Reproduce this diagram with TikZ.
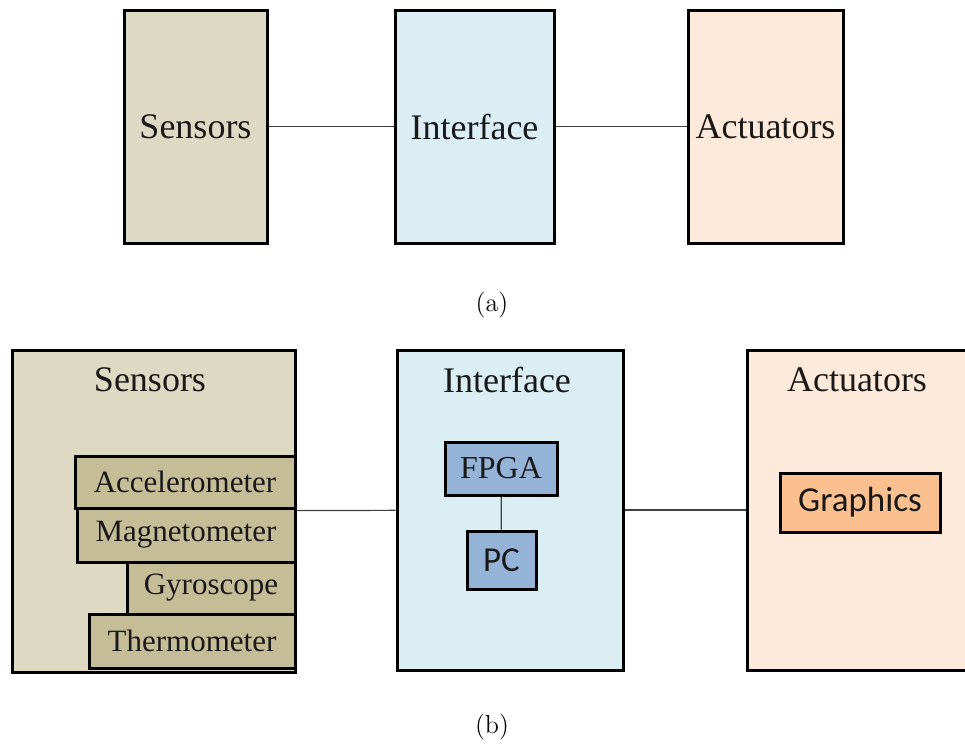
\documentclass[tikz,border=0pt]{standalone}
\usepackage{fontspec}
\newfontfamily\tms{Liberation Serif}
\newfontfamily\clb{Carlito}
\definecolor{senscol}{HTML}{DDD9C3}
\definecolor{subcol}{HTML}{C4BD97}
\definecolor{intcol}{HTML}{DAEEF3}
\definecolor{hwcol}{HTML}{95B3D7}
\definecolor{actcol}{HTML}{FDEADA}
\definecolor{gfxcol}{HTML}{FAC090}
\tikzset{every picture/.style={x=.5pt,y=-.5pt}}
\tikzset{block/.style={rectangle,draw,line width=1.5pt,inner sep=0pt,text=black!90,font=\tms\fontsize{18}{20}\selectfont}}
\tikzset{part/.style={block,font=\tms\fontsize{15.5}{18}\selectfont}}
\tikzset{hw/.style={block,fill=hwcol,font=\clb\fontsize{17.5}{20}\selectfont}}
\tikzset{heading/.style={font=\tms\fontsize{18}{20}\selectfont,text=black!90}}
\tikzset{link/.style={line width=.6pt,draw=black!75}}
\tikzset{figcap/.style={font=\fontsize{13}{15}\selectfont}}

\begin{document}
\begin{tikzpicture}
\clip (0,0) rectangle (965,746);
% (a)
\node [block,fill=senscol,minimum width=71.5pt,minimum height=116.5pt] (s) at (195.5,126.5) {Sensors};
\node [block,fill=intcol,minimum width=79.5pt,minimum height=116.5pt] (i) at (474.5,126.5) {Interface};
\node [block,fill=actcol,minimum width=77.5pt,minimum height=116.5pt] (a) at (765.5,126.5) {Actuators};
\draw [link] (s) -- (i);
\draw [link] (i) -- (a);
\node [figcap] (capa) at (492,305) {(a)};

% (b)
\node [block,fill=senscol,minimum width=141.5pt,minimum height=161pt] (sb) at (153.5,511) {};
\node [block,fill=intcol,minimum width=113pt,minimum height=160pt] (ib) at (510,510) {};
\node [block,fill=actcol,minimum width=115pt,minimum height=160pt] (ab) at (862,510) {};
\node [heading] (sbt) at (150,380) {Sensors};
\node [heading] (ibt) at (507,380) {Interface};
\node [heading] (abt) at (857,380) {Actuators};

\node [part,fill=subcol,minimum width=110pt,minimum height=26pt] (acc) at (185,482) {Accelerometer};
\node [part,fill=subcol,minimum width=109pt,minimum height=27pt] (mag) at (186,535) {Magnetometer};
\node [part,fill=subcol,minimum width=84pt,minimum height=26pt] (gyr) at (211,588) {Gyroscope};
\node [part,fill=subcol,minimum width=103pt,minimum height=27pt] (thm) at (192,641) {Thermometer};

\node [block,fill=hwcol,font=\tms\fontsize{16}{18}\selectfont,minimum width=56pt,minimum height=26.5pt] (fpga) at (501,468.5) {FPGA};
\node [hw,minimum width=34.5pt,minimum height=29pt] (pc) at (501.5,560) {PC};
\draw [link] (fpga) -- (pc);

\node [hw,fill=gfxcol,minimum width=80pt,minimum height=29.5pt] (gfx) at (860,502.5) {Graphics};

\draw [link] (sb) -- (ib);
\draw [link] (ib) -- (ab);
\node [figcap] (capb) at (492,726.5) {(b)};
\end{tikzpicture}
\end{document}
